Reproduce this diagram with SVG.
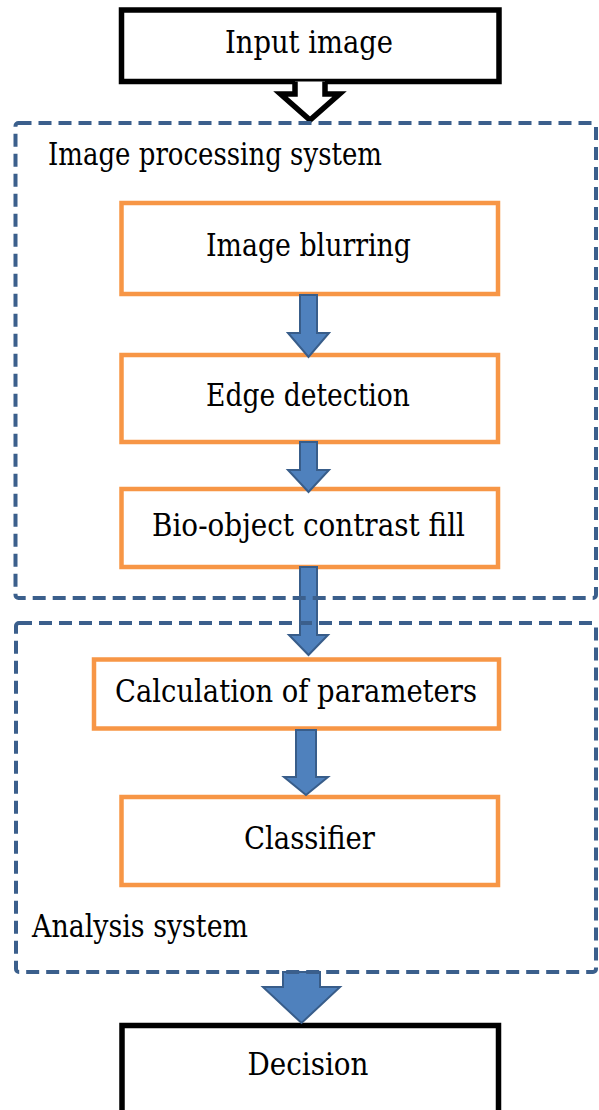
<svg xmlns="http://www.w3.org/2000/svg" width="599" height="1110" viewBox="0 0 599 1110">
<style>
text{font-family:'DejaVu Serif','Liberation Serif',serif;font-size:31.5px;fill:#000;}
.c{text-anchor:middle;}
.ob{fill:#fff;stroke:#F79646;stroke-width:4.5;}
.kb{fill:#fff;stroke:#000;stroke-width:5.5;}
.db{fill:none;stroke:#3B5F8C;stroke-width:4;stroke-dasharray:13 7;}
.ar{fill:#4F81BD;stroke:#385D8A;stroke-width:2;stroke-linejoin:miter;}
</style>
<g id="input-node">
<rect class="kb" x="121.5" y="10" width="377.5" height="71.5"/>
<text class="c" x="309" y="53" textLength="168" lengthAdjust="spacingAndGlyphs">Input image</text>
</g>
<g id="image-blurring">
<rect class="ob" x="121.5" y="203" width="376.5" height="91"/>
<text class="c" x="308.5" y="256" textLength="205" lengthAdjust="spacingAndGlyphs">Image blurring</text>
</g>
<g id="edge-detection">
<rect class="ob" x="121.5" y="355" width="376.5" height="87"/>
<text class="c" x="308" y="406" textLength="204" lengthAdjust="spacingAndGlyphs">Edge detection</text>
</g>
<g id="bio-object">
<rect class="ob" x="121.5" y="489" width="376.5" height="78"/>
<text class="c" x="308.5" y="536" textLength="313" lengthAdjust="spacingAndGlyphs">Bio-object contrast fill</text>
</g>
<g id="calculation">
<rect class="ob" x="94" y="659.5" width="405" height="69"/>
<text class="c" x="296" y="702" textLength="362" lengthAdjust="spacingAndGlyphs">Calculation of parameters</text>
</g>
<g id="classifier">
<rect class="ob" x="121.5" y="797" width="376.5" height="88"/>
<text class="c" x="309.5" y="849" textLength="131" lengthAdjust="spacingAndGlyphs">Classifier</text>
</g>
<g id="decision">
<rect class="kb" x="122" y="1025.5" width="376.5" height="100"/>
<text class="c" x="308" y="1075" textLength="121" lengthAdjust="spacingAndGlyphs">Decision</text>
</g>
<g id="connectors">
<path d="M295,81.5 V94 H280.5 L310,120 L339.5,94 H325 V81.5" fill="#fff" stroke="#000" stroke-width="5.5" stroke-linejoin="miter"/>
<path class="ar" d="M300,295 H317 V333 H329 L308.5,357 L288,333 H300 Z"/>
<path class="ar" d="M300,442 H317 V470 H329 L308.5,492 L288,470 H300 Z"/>
<path class="ar" d="M300,567 H317 V635 H328 L308.5,655 L289,635 H300 Z"/>
<path class="ar" d="M296,730 H316 V777 H328 L306,795 L284,777 H296 Z"/>
<path class="ar" d="M283,972 H320 V987 H340 L301.5,1023 L263,987 H283 Z"/>
</g>
<g id="image-processing-system">
<rect class="db" x="15.5" y="123" width="580.5" height="475" rx="3"/>
<text x="48" y="165" textLength="334" lengthAdjust="spacingAndGlyphs">Image processing system</text>
</g>
<g id="analysis-system">
<rect class="db" x="16" y="623" width="580" height="349" rx="3"/>
<text x="32" y="937" textLength="216" lengthAdjust="spacingAndGlyphs">Analysis system</text>
</g>
</svg>
